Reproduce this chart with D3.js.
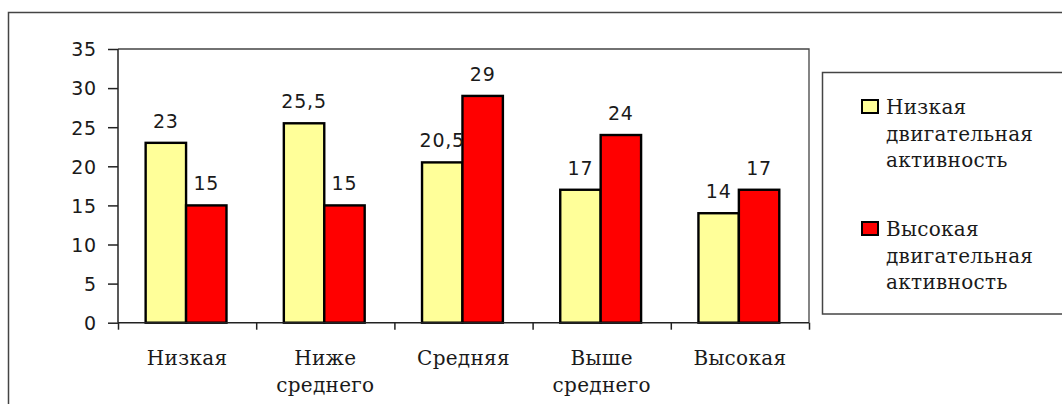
<!DOCTYPE html>
<html>
<head>
<meta charset="utf-8">
<script src="https://cdn.jsdelivr.net/npm/d3@7"></script>
<style>
  html, body { margin: 0; padding: 0; background: #fff; }
  svg { display: block; }
</style>
</head>
<body>
<svg id="chart" width="1062" height="404"></svg>
<script>
// ---- data ----
const categories = [["Низкая"], ["Ниже", "среднего"], ["Средняя"], ["Выше", "среднего"], ["Высокая"]];
const seriesNames = [["Низкая", "двигательная", "активность"], ["Высокая", "двигательная", "активность"]];
const lowActivity = [23, 25.5, 20.5, 17, 14];
const highActivity = [15, 15, 29, 24, 17];
const valueLabels = [["23", "25,5", "20,5", "17", "14"], ["15", "15", "29", "24", "17"]];
const yTicks = [0, 5, 10, 15, 20, 25, 30, 35];
const seriesColors = ["#FFFF99", "#FF0000"];

// ---- layout ----
const svg = d3.select("#chart");
const pLeft = 118, pRight = 809, pTop = 49, pBottom = 322.7;
const catKeys = categories.map((c, i) => i);
const series = [lowActivity, highActivity];

const x0 = d3.scaleBand().domain(catKeys).range([pLeft, pRight]).paddingInner(0).paddingOuter(0);
const bw = x0.bandwidth();
const x1 = d3.scaleBand().domain([0, 1]).range([bw * 0.2, bw * 0.785]);
const y = d3.scaleLinear().domain([0, 35]).range([pBottom, pTop]);
const xb = d3.scaleLinear().domain([0, categories.length]).range([pLeft, pRight]);

const sansFont = "'DejaVu Sans', Verdana, sans-serif";
const serifFont = "'DejaVu Serif', 'Liberation Serif', serif";
const textColor = "#1a1a1a";

// outer frame
svg.append("path").attr("d", `M8.5,404 V12.5 H1062`).attr("fill", "none").attr("stroke", "#444").attr("stroke-width", 1.5);

// plot area border (top and right)
svg.append("path").attr("d", `M${pLeft},${pTop} H${pRight} V${pBottom}`).attr("fill", "none").attr("stroke", "#444").attr("stroke-width", 1.3);

// bars
const groups = svg.append("g").selectAll("g").data(catKeys).join("g")
  .attr("transform", d => `translate(${x0(d)},0)`);

groups.selectAll("rect").data(ci => series.map((s, si) => ({ si, v: s[ci], ci }))).join("rect")
  .attr("x", d => x1(d.si))
  .attr("width", x1.bandwidth())
  .attr("y", d => y(d.v))
  .attr("height", d => y(0) - y(d.v))
  .attr("fill", d => seriesColors[d.si])
  .attr("stroke", "#000")
  .attr("stroke-width", 2.4);

groups.selectAll("text.val").data(ci => series.map((s, si) => ({ si, v: s[ci], ci }))).join("text")
  .attr("class", "val")
  .attr("x", d => x1(d.si) + x1.bandwidth() / 2)
  .attr("y", d => y(d.v) - 15)
  .attr("text-anchor", "middle")
  .style("font-family", sansFont)
  .style("font-size", "19px")
  .style("letter-spacing", "0.8px")
  .attr("fill", textColor)
  .text(d => valueLabels[d.si][d.ci]);

// y axis
const yAxis = svg.append("g").attr("transform", `translate(${pLeft},0)`)
  .call(d3.axisLeft(y).tickValues(yTicks).tickSize(10).tickPadding(11).tickFormat(d3.format("d")));
yAxis.select(".domain").attr("stroke", "#222").attr("stroke-width", 1.5).attr("d", `M0,${pTop}V${pBottom}`);
yAxis.selectAll(".tick line").attr("stroke", "#222").attr("stroke-width", 1.5);
yAxis.selectAll(".tick text")
  .style("font-family", sansFont).style("font-size", "19px").style("letter-spacing", "0.8px")
  .attr("fill", textColor).attr("dy", "0.36em");

// x axis (boundary ticks)
const xAxis = svg.append("g").attr("transform", `translate(0,${pBottom})`)
  .call(d3.axisBottom(xb).tickValues(d3.range(categories.length + 1)).tickSize(7).tickFormat(""));
xAxis.select(".domain").attr("stroke", "#222").attr("stroke-width", 1.5).attr("d", `M${pLeft},0H${pRight}`);
xAxis.selectAll(".tick line").attr("stroke", "#222").attr("stroke-width", 1.5);

// category labels
const catLabels = svg.append("g").selectAll("text").data(catKeys).join("text")
  .attr("x", d => x0(d) + bw / 2)
  .attr("y", 365)
  .attr("text-anchor", "middle")
  .style("font-family", serifFont)
  .style("font-size", "20px")
  .style("letter-spacing", "0.3px")
  .attr("fill", textColor);
catLabels.selectAll("tspan").data(d => categories[d]).join("tspan")
  .attr("x", function () { return d3.select(this.parentNode).attr("x"); })
  .attr("dy", (d, i) => i === 0 ? 0 : 27)
  .text(d => d);

// legend
svg.append("rect").attr("x", 822.5).attr("y", 72.5).attr("width", 260).attr("height", 241.5)
  .attr("fill", "#fff").attr("stroke", "#444").attr("stroke-width", 1.5);
const legendY = [100, 222];
const leg = svg.append("g").selectAll("g").data([0, 1]).join("g")
  .attr("transform", d => `translate(862,${legendY[d]})`);
leg.append("rect").attr("x", 0).attr("y", 0).attr("width", 16).attr("height", 13)
  .attr("fill", d => seriesColors[d]).attr("stroke", "#000").attr("stroke-width", 2);
const legText = leg.append("text")
  .attr("x", 24).attr("y", 14)
  .style("font-family", serifFont)
  .style("font-size", "20px")
  .style("letter-spacing", "0.3px")
  .attr("fill", textColor);
legText.selectAll("tspan").data(d => seriesNames[d]).join("tspan")
  .attr("x", 24)
  .attr("dy", (d, i) => i === 0 ? 0 : 26.5)
  .text(d => d);
</script>
</body>
</html>
